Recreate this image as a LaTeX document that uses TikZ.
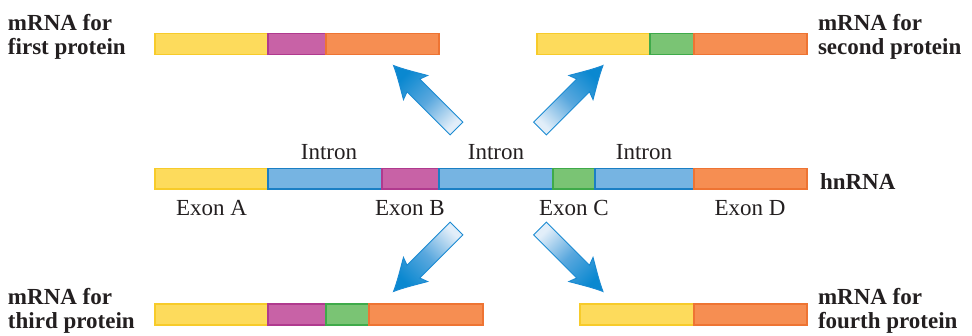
\documentclass[tikz,border=0pt]{standalone}
\usepackage{fontspec}
\setmainfont{Liberation Serif}
\begin{document}
\begin{tikzpicture}[x=1pt,y=-1pt,
  every node/.style={inner sep=0pt,outer sep=0pt,text=txt},
  lab/.style={font=\bfseries\fontsize{23}{24}\selectfont,align=left,anchor=base west},
  seglab/.style={font=\fontsize{23}{24}\selectfont,anchor=base},
  seg/.style={line width=1.1pt},
  yel/.style={seg,fill=cyel,draw=byel},
  mag/.style={seg,fill=cmag,draw=bmag},
  ora/.style={seg,fill=cora,draw=bora},
  grn/.style={seg,fill=cgrn,draw=bgrn},
  blu/.style={seg,fill=cblu,draw=bblu},
  bigarrow/.style={line width=1pt,draw=aline,bottom color=alight,top color=adark,middle color=amid}
]
\definecolor{txt}{HTML}{231F20}
\definecolor{cyel}{HTML}{FDDB5C}
\definecolor{byel}{HTML}{F7CB2A}
\definecolor{cmag}{HTML}{C862A6}
\definecolor{bmag}{HTML}{B03A8E}
\definecolor{cora}{HTML}{F68E52}
\definecolor{bora}{HTML}{EE7433}
\definecolor{cgrn}{HTML}{7AC474}
\definecolor{bgrn}{HTML}{3FAA4A}
\definecolor{cblu}{HTML}{76B4E2}
\definecolor{bblu}{HTML}{1B7FC4}
\definecolor{aline}{HTML}{1A8AD2}
\definecolor{alight}{HTML}{E2EEF9}
\definecolor{amid}{HTML}{5AA8DE}
\definecolor{adark}{HTML}{0A88D0}
\useasboundingbox (0,0) rectangle (972,335);

% top-left mRNA
\filldraw[yel] (155,33.5) rectangle (268,54.5);
\filldraw[mag] (268,33.5) rectangle (326,54.5);
\filldraw[ora] (326,33.5) rectangle (439,54.5);
% top-right mRNA
\filldraw[yel] (537,33.5) rectangle (650,54.5);
\filldraw[grn] (650,33.5) rectangle (694,54.5);
\filldraw[ora] (694,33.5) rectangle (807,54.5);
% hnRNA
\filldraw[yel] (155,168.5) rectangle (268,189);
\filldraw[blu] (268,168.5) rectangle (382,189);
\filldraw[mag] (382,168.5) rectangle (439,189);
\filldraw[blu] (439,168.5) rectangle (553,189);
\filldraw[grn] (553,168.5) rectangle (595,189);
\filldraw[blu] (595,168.5) rectangle (694,189);
\filldraw[ora] (694,168.5) rectangle (807,189);
% bottom-left mRNA
\filldraw[yel] (155,304) rectangle (268,325);
\filldraw[mag] (268,304) rectangle (326,325);
\filldraw[grn] (326,304) rectangle (369,325);
\filldraw[ora] (369,304) rectangle (483,325);
% bottom-right mRNA
\filldraw[yel] (580,304) rectangle (694,325);
\filldraw[ora] (694,304) rectangle (807,325);

% arrows
\def\arrowshape{(0,-9) -- (61,-9) -- (58,-17) .. controls (70,-10) and (80,-4) .. (89,0) .. controls (80,4) and (70,10) .. (58,17) -- (61,9) -- (0,9) -- cycle}
\begin{scope}[shift={(456.5,128.5)},rotate=135]
  \path[bigarrow,shading angle=45] \arrowshape;
\end{scope}
\begin{scope}[shift={(540,128.5)},rotate=45]
  \path[bigarrow,shading angle=-45] \arrowshape;
\end{scope}
\begin{scope}[shift={(456.5,228.5)},rotate=225]
  \path[bigarrow,shading angle=135] \arrowshape;
\end{scope}
\begin{scope}[shift={(540,228.5)},rotate=315]
  \path[bigarrow,shading angle=225] \arrowshape;
\end{scope}

% labels (base anchor = baseline of last line)
\node[lab] (m1) at (8,54) {mRNA for\\first protein};
\node[lab] (m2) at (818,54) {mRNA for\\second protein};
\node[lab] (m3) at (8,328) {mRNA for\\third protein};
\node[lab] (m4) at (818,328) {mRNA for\\fourth protein};
\node[lab] (hn) at (820,189) {hnRNA};

\node[seglab] (i1) at (329,159) {Intron};
\node[seglab] (i2) at (496,159) {Intron};
\node[seglab] (i3) at (644,159) {Intron};
\node[seglab] (ea) at (211.5,215) {Exon A};
\node[seglab] (eb) at (410,215) {Exon B};
\node[seglab] (ec) at (574,215) {Exon C};
\node[seglab] (ed) at (750,215) {Exon D};
\end{tikzpicture}
\end{document}
